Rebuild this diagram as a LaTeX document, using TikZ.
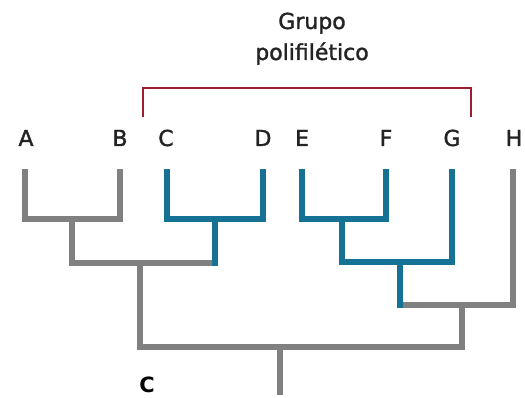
\documentclass[tikz,border=0pt]{standalone}
\usepackage{fontspec}
\setmainfont{DejaVu Sans}
\newfontfamily\labelfont[RawFeature={embolden=1.6}]{DejaVu Sans}
\definecolor{treegray}{RGB}{128,128,128}
\definecolor{cladeblue}{RGB}{22,114,148}
\definecolor{bracketred}{RGB}{158,28,48}
\definecolor{labelink}{RGB}{35,35,35}
\begin{document}
\begin{tikzpicture}[x=1pt,y=-1pt,
  branch/.style={line width=5.4pt, draw=treegray, line cap=rect, line join=miter},
  clade/.style={branch, draw=cladeblue},
  bracket/.style={line width=2.4pt, draw=bracketred, line join=miter},
  taxon/.style={font=\labelfont\fontsize{22}{26}\selectfont, text=labelink, inner sep=0pt, anchor=base},
  grouplabel/.style={font=\labelfont\fontsize{22}{26}\selectfont, text=labelink, inner sep=0pt, anchor=base},
  panel/.style={font=\fontsize{21}{24}\selectfont\bfseries, text=black, inner sep=0pt, anchor=base}]
\useasboundingbox (0,0) rectangle (525,398);

% taxon labels
\node[taxon] (lA) at (26,146) {A};
\node[taxon] (lB) at (120,146) {B};
\node[taxon] (lC) at (166,146) {C};
\node[taxon] (lD) at (263,146) {D};
\node[taxon] (lE) at (302,146) {E};
\node[taxon] (lF) at (386,146) {F};
\node[taxon] (lG) at (452,146) {G};
\node[taxon] (lH) at (514,146) {H};

% tips of the branches
\coordinate (tA) at (25,172);
\coordinate (tB) at (120,172);
\coordinate (tC) at (167,172);
\coordinate (tD) at (263,172);
\coordinate (tE) at (302,172);
\coordinate (tF) at (386,172);
\coordinate (tG) at (452,172);
\coordinate (tH) at (513,172);

% internal nodes (where each ancestral stem leaves its bar)
\coordinate (jAB) at (72,219);
\coordinate (jCD) at (215,219);
\coordinate (jEF) at (342,219);
\coordinate (jABCD) at (140,263);
\coordinate (jEFG) at (400,262);
\coordinate (jEFGH) at (462,305);
\coordinate (root) at (280,347);
\coordinate (base) at (280,392);

% grey lineages
\draw[branch] (tA) |- (jAB) -| (tB);
\draw[branch] (jAB) |- (jABCD) -- (jABCD -| jCD);
\draw[branch] (jEFG |- jEFGH) -- (jEFGH) -| (tH);
\draw[branch] (jABCD) |- (root) -| (jEFGH);
\draw[branch] (root) -- (base);

% blue lineages
\draw[clade] (tC) |- (jCD) -| (tD);
\draw[clade] (jCD) -- (jABCD -| jCD);
\draw[clade] (tE) |- (jEF) -| (tF);
\draw[clade] (jEF) |- (jEFG) -| (tG);
\draw[clade] (jEFG) -- (jEFG |- jEFGH);

% polyphyletic group bracket
\coordinate (bL) at (143,117);
\coordinate (bTop) at (307,88);
\coordinate (bR) at (471,117);
\draw[bracket] (bL) |- (bTop) -| (bR);
\node[grouplabel] (g1) at (312,29) {Grupo};
\node[grouplabel] (g2) at (312,60) {polifilético};

% panel letter
\node[panel] (panel) at (147,392) {C};
\end{tikzpicture}
\end{document}
